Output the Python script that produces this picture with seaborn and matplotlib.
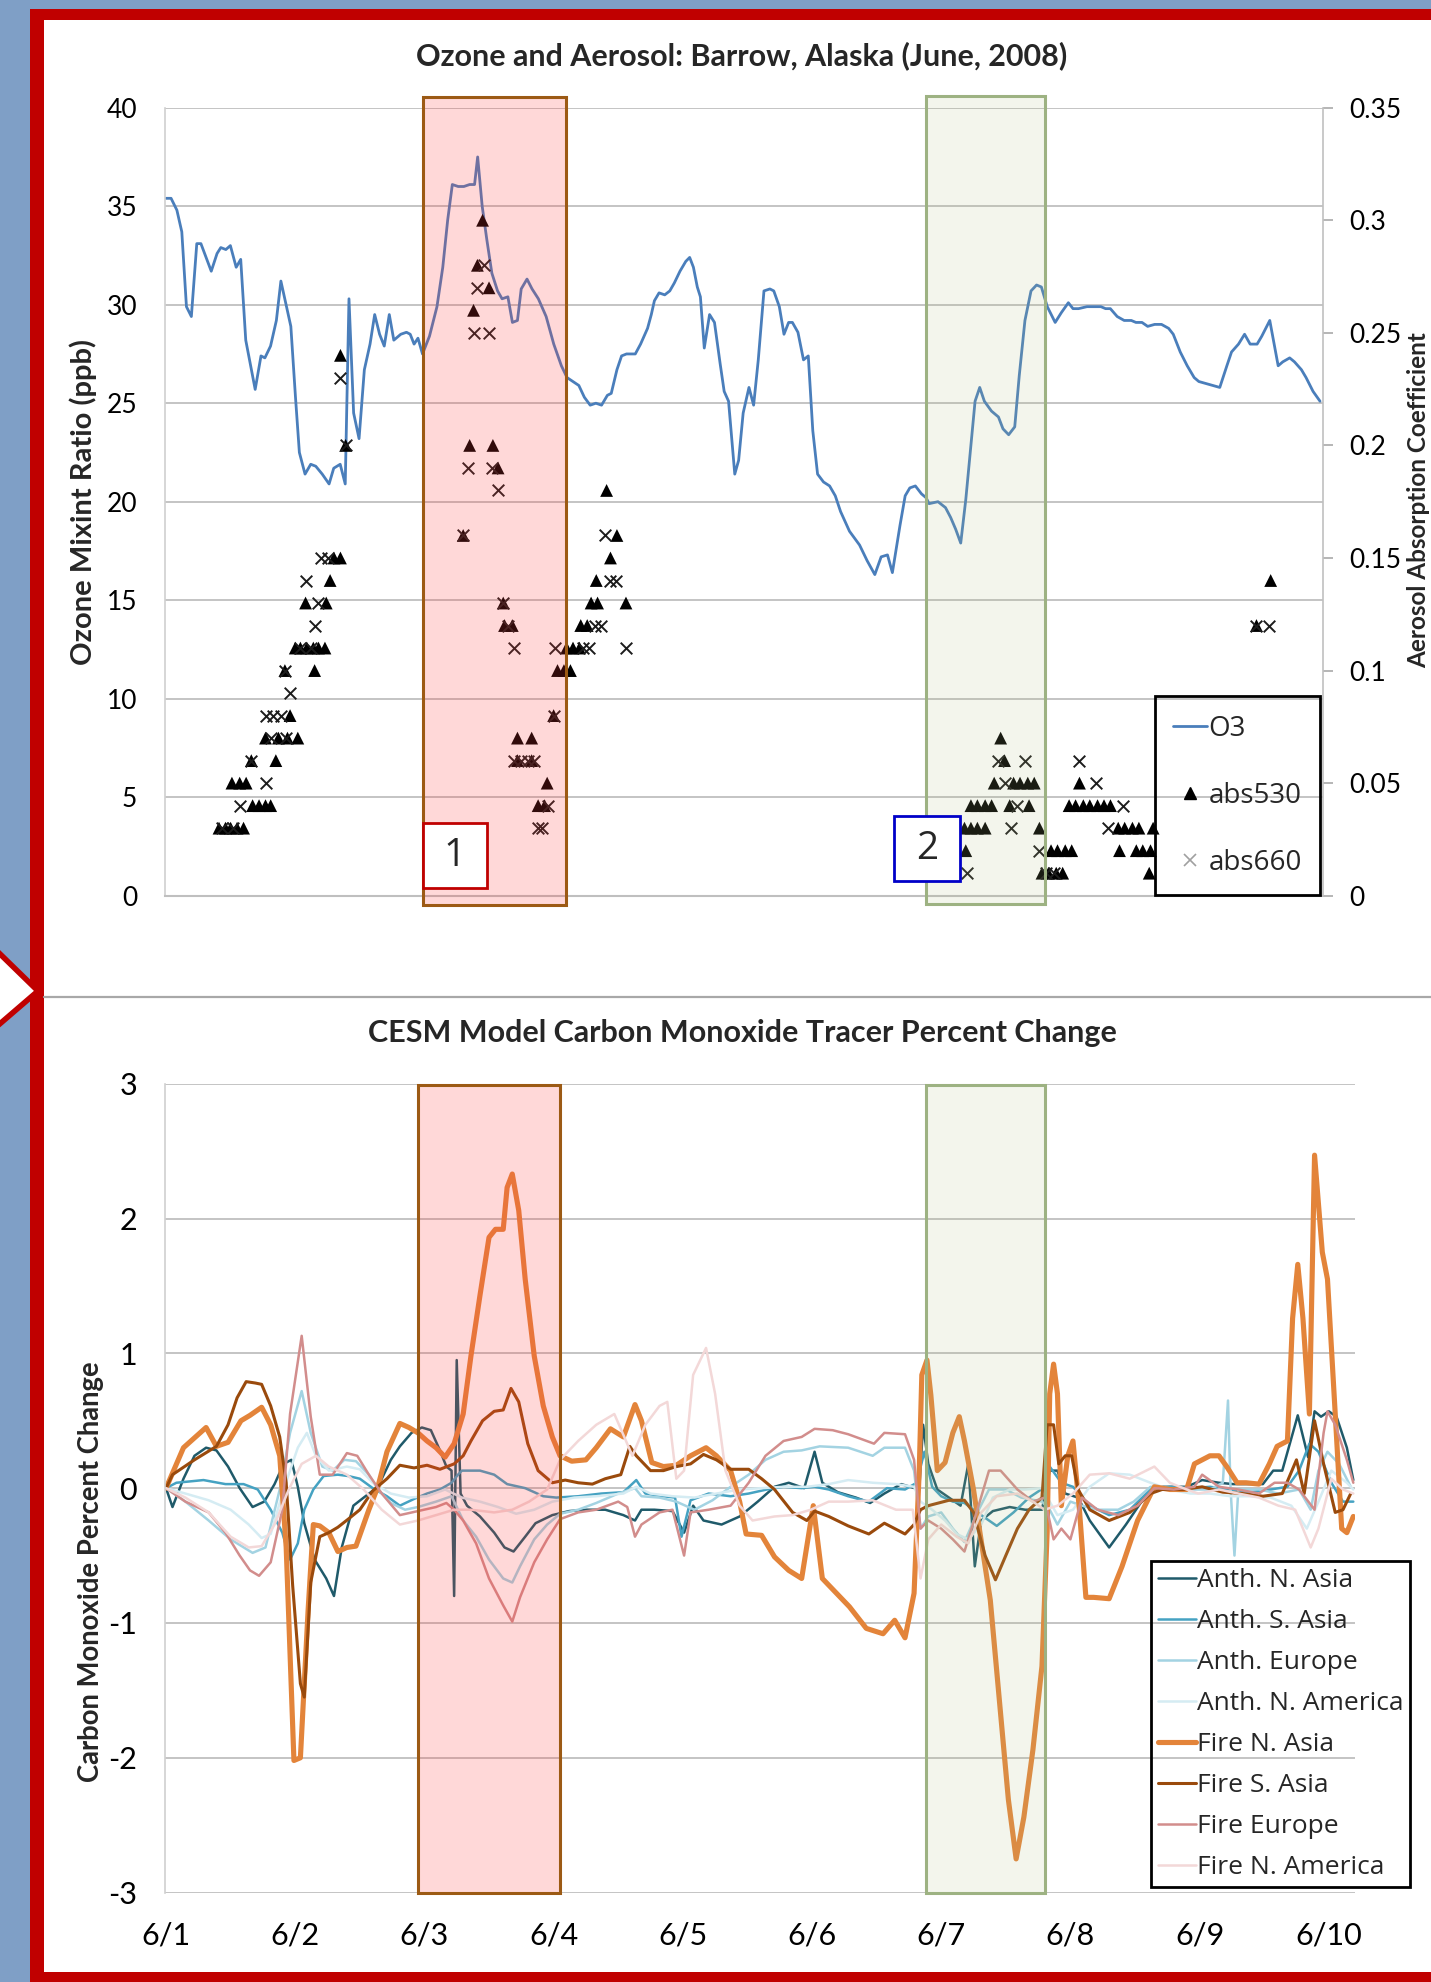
import numpy as np
import pandas as pd
import matplotlib
matplotlib.use("Agg")
import matplotlib.pyplot as plt
import seaborn as sns
from matplotlib.patches import Rectangle, Polygon
from matplotlib.lines import Line2D

# ---------------------------------------------------------------- data
title_top = "Ozone and Aerosol: Barrow, Alaska (June, 2008)"
title_bottom = "CESM Model Carbon Monoxide Tracer Percent Change"
ylabel_top = "Ozone Mixint Ratio (ppb)"
ylabel_right = "Aerosol Absorption Coefficient"
ylabel_bottom = "Carbon Monoxide Percent Change"

o3_ticks = [0, 5, 10, 15, 20, 25, 30, 35, 40]
o3_ticklabels = ["0", "5", "10", "15", "20", "25", "30", "35", "40"]
abs_ticks = [0, 0.05, 0.10, 0.15, 0.20, 0.25, 0.30, 0.35]
abs_ticklabels = ["0", "0.05", "0.1", "0.15", "0.2", "0.25", "0.3", "0.35"]
co_yticks = [-3, -2, -1, 0, 1, 2, 3]
co_yticklabels = ["-3", "-2", "-1", "0", "1", "2", "3"]
date_ticks = [0, 1, 2, 3, 4, 5, 6, 7, 8, 9]
date_labels = ["6/1", "6/2", "6/3", "6/4", "6/5", "6/6", "6/7", "6/8", "6/9", "6/10"]

# O3 (days since 6/1 00:00, ppb)
o3_points = [
    (0.000, 35.4), (0.039, 35.4), (0.084, 34.8), (0.122, 33.7), (0.158, 29.9), (0.196, 29.4),
    (0.238, 33.1), (0.270, 33.1), (0.350, 31.7), (0.395, 32.6), (0.424, 32.9), (0.463, 32.8),
    (0.498, 33.0), (0.543, 31.9), (0.578, 32.3), (0.617, 28.2), (0.690, 25.7), (0.735, 27.4),
    (0.765, 27.3), (0.809, 27.9), (0.854, 29.2), (0.889, 31.2), (0.966, 28.9), (1.002, 25.3),
    (1.032, 22.5), (1.076, 21.4), (1.120, 21.9), (1.159, 21.8), (1.209, 21.4), (1.262, 20.9),
    (1.298, 21.7), (1.348, 21.9), (1.387, 20.9), (1.416, 30.3), (1.452, 24.5), (1.494, 23.2),
    (1.535, 26.7), (1.579, 28.0), (1.615, 29.5), (1.653, 28.5), (1.689, 27.9), (1.728, 29.5),
    (1.763, 28.2), (1.817, 28.5), (1.861, 28.6), (1.890, 28.5), (1.920, 28.0), (1.950, 28.3),
    (1.985, 27.5), (2.039, 28.4), (2.097, 29.9), (2.142, 31.9), (2.180, 34.3), (2.216, 36.1),
    (2.261, 36.0), (2.305, 36.0), (2.350, 36.1), (2.388, 36.1), (2.412, 37.5), (2.447, 35.0),
    (2.483, 33.3), (2.522, 31.6), (2.566, 30.7), (2.601, 30.3), (2.646, 30.4), (2.681, 29.1),
    (2.720, 29.2), (2.749, 30.8), (2.794, 31.3), (2.833, 30.8), (2.882, 30.3), (2.942, 29.4),
    (3.001, 28.0), (3.060, 26.9), (3.104, 26.3), (3.149, 26.1), (3.195, 25.9), (3.238, 25.3),
    (3.283, 24.9), (3.327, 25.0), (3.371, 24.9), (3.416, 25.4), (3.446, 25.5), (3.490, 26.7),
    (3.526, 27.4), (3.564, 27.5), (3.632, 27.5), (3.673, 28.0), (3.727, 28.8), (3.756, 29.5),
    (3.780, 30.2), (3.816, 30.6), (3.860, 30.5), (3.899, 30.7), (3.934, 31.1), (3.978, 31.7),
    (4.023, 32.2), (4.053, 32.4), (4.082, 31.9), (4.112, 30.9), (4.136, 30.4), (4.166, 27.8),
    (4.207, 29.5), (4.245, 29.1), (4.289, 27.0), (4.320, 25.6), (4.354, 25.1), (4.402, 21.4),
    (4.432, 22.1), (4.467, 24.5), (4.512, 25.8), (4.548, 24.9), (4.584, 27.2), (4.628, 30.7),
    (4.674, 30.8), (4.704, 30.7), (4.747, 29.9), (4.783, 28.5), (4.819, 29.1), (4.848, 29.1),
    (4.891, 28.6), (4.934, 27.2), (4.971, 27.4), (5.006, 23.6), (5.043, 21.4), (5.089, 21.0),
    (5.136, 20.8), (5.180, 20.3), (5.221, 19.5), (5.290, 18.5), (5.368, 17.8), (5.427, 17.0),
    (5.486, 16.3), (5.535, 17.2), (5.584, 17.3), (5.622, 16.4), (5.681, 18.8), (5.721, 20.3),
    (5.757, 20.7), (5.800, 20.8), (5.847, 20.4), (5.883, 20.2), (5.906, 19.9), (5.975, 20.0),
    (6.033, 19.7), (6.073, 19.2), (6.112, 18.6), (6.151, 17.9), (6.190, 20.1), (6.262, 25.1),
    (6.298, 25.8), (6.334, 25.1), (6.389, 24.6), (6.443, 24.3), (6.478, 23.7), (6.522, 23.4),
    (6.569, 23.8), (6.604, 26.4), (6.648, 29.2), (6.695, 30.7), (6.738, 31.0), (6.775, 30.9),
    (6.821, 29.9), (6.882, 29.1), (6.930, 29.6), (6.984, 30.1), (7.020, 29.8), (7.063, 29.8),
    (7.128, 29.9), (7.182, 29.9), (7.236, 29.9), (7.272, 29.8), (7.309, 29.8), (7.362, 29.4),
    (7.416, 29.2), (7.471, 29.2), (7.507, 29.1), (7.554, 29.1), (7.598, 28.9), (7.652, 29.0),
    (7.705, 29.0), (7.760, 28.8), (7.796, 28.5), (7.850, 27.6), (7.904, 26.9), (7.958, 26.3),
    (7.994, 26.1), (8.048, 26.0), (8.102, 25.9), (8.156, 25.8), (8.211, 26.9), (8.247, 27.6),
    (8.301, 28.0), (8.348, 28.5), (8.391, 28.0), (8.445, 28.0), (8.481, 28.4), (8.543, 29.2),
    (8.608, 26.9), (8.644, 27.1), (8.697, 27.3), (8.734, 27.1), (8.788, 26.7), (8.824, 26.3),
    (8.878, 25.6), (8.932, 25.1),
]

# aerosol absorption at 530 nm (day, coefficient)
abs530_points = [
    (0.41, .03), (0.46, .03), (0.50, .03), (0.55, .03), (0.60, .03),
    (0.67, .04), (0.72, .04), (0.77, .04), (0.81, .04),
    (0.51, .05), (0.57, .05), (0.62, .05), (0.66, .06), (0.85, .06),
    (0.77, .07), (0.87, .07), (0.94, .07), (1.02, .07), (0.96, .08),
    (0.92, .10), (1.15, .10),
    (1.00, .11), (1.04, .11), (1.09, .11), (1.14, .11), (1.18, .11), (1.23, .11),
    (1.08, .13), (1.24, .13), (1.27, .14), (1.30, .15), (1.35, .15), (1.39, .20), (1.35, .24),
    (2.30, .16), (2.35, .20), (2.53, .20), (2.57, .19), (2.38, .26), (2.50, .27), (2.41, .28),
    (2.45, .30), (2.61, .13), (2.62, .12), (2.68, .12), (3.00, .08), (2.72, .07), (2.83, .07),
    (2.72, .06), (2.83, .06), (2.95, .05), (2.88, .04), (2.93, .04),
    (3.03, .10), (3.08, .10), (3.13, .10), (3.10, .11), (3.15, .11), (3.20, .11),
    (3.21, .12), (3.26, .12), (3.29, .13), (3.34, .13), (3.56, .13), (3.33, .14),
    (3.44, .15), (3.49, .16), (3.41, .18),
    (6.46, .07), (6.49, .06), (6.41, .05), (6.56, .05), (6.61, .05), (6.67, .05), (6.72, .05),
    (7.07, .05),
    (6.23, .04), (6.28, .04), (6.34, .04), (6.39, .04), (6.53, .04), (6.68, .04), (6.99, .04),
    (7.04, .04), (7.10, .04), (7.15, .04), (7.21, .04), (7.26, .04), (7.31, .04),
    (6.18, .03), (6.23, .03), (6.28, .03), (6.34, .03), (6.76, .03), (7.37, .03), (7.42, .03),
    (7.48, .03), (7.53, .03), (7.64, .03),
    (6.19, .02), (6.85, .02), (6.90, .02), (6.96, .02), (7.01, .02), (7.38, .02), (7.51, .02),
    (7.56, .02), (7.62, .02),
    (6.78, .01), (6.83, .01), (6.89, .01), (6.94, .01), (7.61, .01),
    (8.55, .14), (8.44, .12),
]

# aerosol absorption at 660 nm (day, coefficient)
abs660_points = [
    (0.43, .03), (0.52, .03), (0.57, .04), (0.77, .05), (0.66, .06), (0.81, .07), (0.93, .07),
    (0.77, .08), (0.83, .08), (0.89, .08), (0.96, .09), (0.92, .10), (1.04, .11), (1.12, .11),
    (1.15, .12), (1.18, .13), (1.08, .14), (1.20, .15), (1.25, .15), (1.39, .20), (1.35, .23),
    (2.30, .16), (2.46, .28), (2.41, .27), (2.38, .25), (2.50, .25), (2.34, .19), (2.52, .19),
    (2.57, .18), (2.61, .13), (2.65, .12), (2.69, .11), (3.00, .08), (2.69, .06), (2.75, .06),
    (2.80, .06), (2.85, .06), (2.96, .04), (2.88, .03), (2.91, .03),
    (3.01, .11), (3.23, .11), (3.27, .11), (3.56, .11), (3.32, .12), (3.37, .12), (3.44, .14),
    (3.48, .14), (3.40, .16),
    (6.44, .06), (6.65, .06), (7.07, .06), (6.49, .05), (7.20, .05), (6.59, .04), (7.41, .04),
    (6.54, .03), (7.29, .03), (6.76, .02), (6.20, .01), (6.81, .01), (6.87, .01),
    (8.44, .12), (8.54, .12),
]

# CO tracer percent change (day, %)
co_anth_nasia = [
    (0.0, 0.0), (0.05, -0.14), (0.135, 0.07), (0.22, 0.24), (0.31, 0.30), (0.39, 0.28), (0.48, 0.16),
    (0.57, 0.0), (0.67, -0.14), (0.76, -0.10), (0.84, 0.03), (0.91, 0.18), (0.97, 0.21), (1.02, 0.01),
    (1.07, -0.26), (1.15, -0.53), (1.24, -0.67), (1.30, -0.80), (1.36, -0.44), (1.45, -0.13),
    (1.53, -0.07), (1.64, 0.01), (1.74, 0.21), (1.81, 0.31), (1.90, 0.41), (1.98, 0.45), (2.05, 0.43),
    (2.12, 0.28), (2.17, 0.16), (2.21, 0.13), (2.23, -0.80), (2.25, 0.95), (2.28, -0.04), (2.33, -0.13),
    (2.43, -0.21), (2.54, -0.33), (2.62, -0.44), (2.69, -0.47), (2.78, -0.36), (2.86, -0.26),
    (2.99, -0.20), (3.12, -0.17), (3.26, -0.16), (3.40, -0.16), (3.54, -0.20), (3.63, -0.24),
    (3.68, -0.16), (3.78, -0.16), (3.92, -0.17), (4.01, -0.33), (4.08, -0.13), (4.16, -0.24),
    (4.30, -0.27), (4.44, -0.21), (4.58, -0.10), (4.71, 0.01), (4.82, 0.04), (4.94, 0.0), (5.02, 0.27),
    (5.08, 0.04), (5.20, -0.03), (5.34, -0.07), (5.45, -0.11), (5.56, -0.04), (5.69, 0.03), (5.76, 0.01),
    (5.83, -0.01), (5.86, 0.47), (5.90, 0.18), (5.97, -0.01), (6.06, -0.07), (6.15, -0.13), (6.21, 0.18),
    (6.26, -0.58), (6.31, -0.24), (6.40, -0.17), (6.53, -0.14), (6.65, -0.16), (6.78, -0.16),
    (6.84, 0.13), (6.90, 0.13), (6.96, -0.04), (7.06, -0.07), (7.15, -0.24), (7.30, -0.44),
    (7.43, -0.27), (7.55, -0.10), (7.65, 0.01), (7.77, 0.01), (7.90, 0.01), (8.02, 0.06), (8.15, 0.04),
    (8.26, 0.03), (8.36, 0.03), (8.49, 0.03), (8.57, 0.13), (8.64, 0.13), (8.76, 0.54), (8.84, 0.23),
    (8.89, 0.57), (8.94, 0.53), (9.00, 0.57), (9.06, 0.53), (9.14, 0.30), (9.19, 0.06),
]
co_anth_sasia = [
    (0.0, 0.0), (0.08, 0.04), (0.29, 0.06), (0.46, 0.03), (0.60, 0.03), (0.71, -0.01), (0.81, -0.16),
    (0.90, -0.33), (0.96, -0.53), (1.02, -0.41), (1.07, -0.16), (1.14, -0.01), (1.22, 0.09),
    (1.33, 0.10), (1.41, 0.09), (1.50, 0.07), (1.60, 0.0), (1.71, -0.06), (1.81, -0.13), (1.92, -0.08),
    (2.02, -0.04), (2.12, -0.01), (2.21, 0.04), (2.26, 0.10), (2.29, 0.13), (2.43, 0.13), (2.54, 0.10),
    (2.64, 0.03), (2.78, 0.0), (2.92, -0.06), (3.02, -0.07), (3.19, -0.06), (3.37, -0.04), (3.54, -0.03),
    (3.64, 0.06), (3.71, -0.04), (3.85, -0.06), (3.94, -0.07), (3.99, -0.36), (4.06, -0.09),
    (4.20, -0.04), (4.37, -0.06), (4.51, -0.04), (4.65, -0.01), (4.78, 0.01), (4.92, 0.0), (5.02, 0.01),
    (5.13, -0.01), (5.28, -0.06), (5.44, -0.10), (5.58, 0.0), (5.72, -0.01), (5.81, 0.04), (5.87, 0.27),
    (5.93, 0.01), (6.00, -0.06), (6.09, -0.10), (6.18, -0.11), (6.25, -0.16), (6.31, -0.20),
    (6.43, -0.28), (6.56, -0.18), (6.68, -0.07), (6.79, 0.0), (6.84, 0.16), (6.93, 0.04), (7.02, 0.01),
    (7.15, -0.13), (7.30, -0.20), (7.46, -0.16), (7.62, -0.01), (7.77, 0.01), (7.93, 0.0), (8.08, 0.01),
    (8.24, -0.01), (8.39, -0.03), (8.55, -0.01), (8.68, 0.01), (8.77, 0.13), (8.85, 0.33), (8.92, 0.27),
    (9.02, 0.04), (9.11, -0.10), (9.19, -0.10),
]
co_anth_europe = [
    (0.0, 0.0), (0.15, -0.10), (0.33, -0.24), (0.50, -0.38), (0.67, -0.48), (0.77, -0.44),
    (0.88, -0.01), (0.96, 0.41), (1.05, 0.72), (1.12, 0.41), (1.21, 0.16), (1.29, 0.13), (1.38, 0.21),
    (1.47, 0.20), (1.57, 0.10), (1.64, -0.01), (1.74, -0.11), (1.85, -0.16), (1.95, -0.14),
    (2.09, -0.10), (2.21, -0.06), (2.26, -0.16), (2.30, -0.24), (2.40, -0.36), (2.50, -0.53),
    (2.61, -0.67), (2.68, -0.70), (2.74, -0.58), (2.85, -0.38), (2.95, -0.27), (3.05, -0.19),
    (3.19, -0.16), (3.33, -0.11), (3.50, -0.04), (3.63, 0.0), (3.68, -0.06), (3.82, -0.07),
    (3.95, -0.10), (4.09, -0.16), (4.23, -0.09), (4.37, 0.01), (4.51, 0.10), (4.64, 0.21), (4.78, 0.27),
    (4.92, 0.28), (5.06, 0.31), (5.28, 0.30), (5.47, 0.24), (5.56, 0.30), (5.72, 0.30), (5.79, 0.13),
    (5.84, -0.30), (5.90, -0.21), (6.00, -0.18), (6.09, -0.30), (6.18, -0.40), (6.28, -0.18),
    (6.37, -0.01), (6.50, -0.01), (6.62, -0.07), (6.78, -0.10), (6.84, -0.16), (6.90, -0.27),
    (7.00, -0.10), (7.09, -0.13), (7.21, -0.16), (7.37, -0.16), (7.49, -0.10), (7.62, 0.01), (7.77, 0.0),
    (7.93, -0.01), (8.08, -0.01), (8.18, 0.04), (8.22, 0.65), (8.24, -0.01), (8.27, -0.50), (8.30, -0.01),
    (8.46, -0.01), (8.61, -0.04), (8.77, -0.01), (8.86, -0.16), (8.92, 0.13), (8.99, 0.27), (9.08, 0.18),
    (9.17, 0.01),
]
co_anth_namerica = [
    (0.0, 0.0), (0.15, -0.04), (0.33, -0.09), (0.50, -0.16), (0.64, -0.27), (0.74, -0.37), (0.81, -0.34),
    (0.91, -0.01), (1.02, 0.30), (1.09, 0.41), (1.16, 0.24), (1.26, 0.13), (1.40, 0.16), (1.50, 0.14),
    (1.60, 0.04), (1.74, -0.04), (1.88, -0.07), (2.02, -0.06), (2.16, -0.01), (2.29, -0.07),
    (2.43, -0.10), (2.57, -0.14), (2.71, -0.19), (2.85, -0.16), (2.99, -0.10), (3.16, -0.07),
    (3.33, -0.06), (3.54, -0.04), (3.64, 0.01), (3.75, -0.04), (3.92, -0.06), (4.09, -0.07),
    (4.26, -0.04), (4.44, -0.01), (4.61, 0.0), (4.78, 0.01), (4.96, 0.01), (5.13, 0.03), (5.28, 0.06),
    (5.47, 0.04), (5.65, 0.03), (5.79, 0.01), (5.84, -0.10), (5.93, -0.16), (6.03, -0.24), (6.12, -0.34),
    (6.21, -0.38), (6.31, -0.27), (6.40, -0.07), (6.53, -0.01), (6.65, -0.01), (6.78, 0.0), (6.90, -0.20),
    (7.02, -0.16), (7.15, 0.01), (7.30, 0.11), (7.46, 0.10), (7.62, 0.04), (7.77, -0.01), (7.93, -0.04),
    (8.08, -0.04), (8.24, -0.06), (8.39, -0.06), (8.55, -0.07), (8.71, -0.13), (8.83, -0.30),
    (8.92, -0.10), (9.02, 0.13), (9.14, 0.04), (9.19, -0.01),
]
co_fire_nasia = [
    (0.0, 0.0), (0.135, 0.30), (0.31, 0.45), (0.39, 0.31), (0.48, 0.34), (0.58, 0.50), (0.65, 0.54),
    (0.74, 0.60), (0.81, 0.47), (0.88, 0.24), (0.93, -0.44), (0.99, -2.02), (1.04, -2.00), (1.10, -0.90),
    (1.14, -0.27), (1.19, -0.28), (1.26, -0.33), (1.33, -0.47), (1.40, -0.44), (1.47, -0.43),
    (1.57, -0.16), (1.64, 0.01), (1.71, 0.27), (1.81, 0.48), (1.88, 0.45), (1.95, 0.41), (2.02, 0.35),
    (2.09, 0.30), (2.16, 0.23), (2.23, 0.33), (2.30, 0.55), (2.36, 0.98), (2.43, 1.43), (2.50, 1.86),
    (2.55, 1.92), (2.61, 1.92), (2.64, 2.23), (2.68, 2.33), (2.73, 2.06), (2.78, 1.55), (2.85, 0.98),
    (2.92, 0.61), (2.99, 0.38), (3.05, 0.24), (3.14, 0.20), (3.25, 0.21), (3.33, 0.30), (3.44, 0.44),
    (3.54, 0.38), (3.63, 0.62), (3.68, 0.50), (3.76, 0.19), (3.85, 0.16), (3.95, 0.17), (4.06, 0.24),
    (4.18, 0.30), (4.26, 0.24), (4.37, 0.13), (4.44, -0.10), (4.49, -0.34), (4.61, -0.35), (4.71, -0.51),
    (4.82, -0.61), (4.92, -0.67), (5.01, -0.13), (5.08, -0.67), (5.16, -0.75), (5.29, -0.88),
    (5.42, -1.04), (5.55, -1.08), (5.64, -0.98), (5.72, -1.11), (5.79, -0.78), (5.83, 0.13), (5.85, 0.84),
    (5.89, 0.95), (5.92, 0.69), (5.97, 0.13), (6.03, 0.19), (6.09, 0.41), (6.14, 0.53), (6.18, 0.35),
    (6.25, -0.01), (6.30, -0.33), (6.38, -0.83), (6.45, -1.57), (6.52, -2.31), (6.58, -2.75),
    (6.64, -2.44), (6.71, -1.94), (6.78, -1.32), (6.82, -0.33), (6.84, 0.70), (6.87, 0.92), (6.90, 0.70),
    (6.93, -0.13), (6.98, 0.24), (7.02, 0.35), (7.07, -0.16), (7.12, -0.81), (7.18, -0.81), (7.30, -0.82),
    (7.40, -0.58), (7.52, -0.24), (7.65, 0.01), (7.77, -0.01), (7.90, -0.01), (7.96, 0.18), (8.02, 0.21),
    (8.08, 0.24), (8.15, 0.24), (8.21, 0.16), (8.29, 0.04), (8.36, 0.04), (8.46, 0.03), (8.54, 0.18),
    (8.60, 0.31), (8.68, 0.35), (8.72, 1.26), (8.76, 1.66), (8.80, 1.26), (8.85, 0.55), (8.89, 2.47),
    (8.95, 1.75), (8.99, 1.55), (9.05, 0.55), (9.10, -0.30), (9.14, -0.33), (9.19, -0.21),
]
co_fire_sasia = [
    (0.0, 0.0), (0.05, 0.10), (0.22, 0.21), (0.39, 0.31), (0.48, 0.47), (0.55, 0.67), (0.62, 0.79),
    (0.69, 0.78), (0.74, 0.77), (0.81, 0.61), (0.88, 0.38), (0.93, 0.04), (0.98, -0.72), (1.04, -1.45),
    (1.07, -1.55), (1.12, -0.70), (1.19, -0.36), (1.26, -0.33), (1.33, -0.29), (1.41, -0.23),
    (1.50, -0.16), (1.60, -0.02), (1.71, 0.07), (1.81, 0.17), (1.92, 0.15), (2.02, 0.17), (2.12, 0.14),
    (2.23, 0.18), (2.30, 0.24), (2.36, 0.35), (2.45, 0.50), (2.54, 0.57), (2.61, 0.58), (2.67, 0.74),
    (2.73, 0.64), (2.80, 0.33), (2.88, 0.13), (2.99, 0.04), (3.09, 0.06), (3.19, 0.04), (3.30, 0.03),
    (3.40, 0.07), (3.52, 0.10), (3.59, 0.31), (3.64, 0.24), (3.75, 0.13), (3.85, 0.13), (3.95, 0.16),
    (4.06, 0.18), (4.16, 0.25), (4.26, 0.21), (4.37, 0.14), (4.51, 0.14), (4.61, 0.07), (4.71, -0.01),
    (4.85, -0.18), (4.96, -0.24), (5.02, -0.17), (5.13, -0.21), (5.28, -0.28), (5.44, -0.34),
    (5.56, -0.26), (5.72, -0.34), (5.79, -0.27), (5.84, -0.16), (5.90, -0.13), (6.06, -0.09),
    (6.18, -0.09), (6.25, -0.18), (6.34, -0.50), (6.42, -0.68), (6.50, -0.50), (6.59, -0.30),
    (6.68, -0.16), (6.78, -0.07), (6.82, 0.47), (6.87, 0.47), (6.91, 0.18), (6.96, 0.24), (7.01, 0.24),
    (7.06, -0.01), (7.15, -0.16), (7.30, -0.24), (7.46, -0.18), (7.62, -0.04), (7.71, -0.01),
    (7.87, -0.01), (8.02, 0.01), (8.18, -0.03), (8.33, -0.04), (8.49, -0.06), (8.64, -0.04), (8.75, 0.21),
    (8.81, -0.04), (8.89, 0.50), (8.96, 0.18), (9.05, -0.18), (9.11, -0.16), (9.17, -0.04),
]
co_fire_europe = [
    (0.0, 0.0), (0.15, -0.10), (0.33, -0.18), (0.46, -0.33), (0.57, -0.50), (0.65, -0.61), (0.72, -0.65),
    (0.81, -0.55), (0.90, -0.16), (0.96, 0.55), (1.05, 1.13), (1.12, 0.53), (1.19, 0.10), (1.29, 0.10),
    (1.40, 0.26), (1.48, 0.24), (1.57, 0.10), (1.67, -0.04), (1.81, -0.20), (1.95, -0.17), (2.09, -0.14),
    (2.17, -0.11), (2.23, -0.16), (2.30, -0.24), (2.40, -0.41), (2.50, -0.67), (2.61, -0.87),
    (2.68, -0.99), (2.74, -0.81), (2.85, -0.55), (2.95, -0.38), (3.05, -0.23), (3.19, -0.18),
    (3.33, -0.16), (3.50, -0.10), (3.57, -0.14), (3.63, -0.36), (3.68, -0.27), (3.82, -0.18),
    (3.92, -0.16), (4.01, -0.50), (4.06, -0.18), (4.20, -0.16), (4.37, -0.13), (4.51, 0.04), (4.64, 0.24),
    (4.78, 0.35), (4.92, 0.38), (5.02, 0.44), (5.16, 0.43), (5.28, 0.40), (5.48, 0.33), (5.56, 0.41),
    (5.72, 0.40), (5.79, 0.21), (5.84, -0.30), (5.90, -0.24), (6.00, -0.30), (6.09, -0.38), (6.18, -0.47),
    (6.28, -0.16), (6.37, 0.13), (6.46, 0.13), (6.59, -0.01), (6.71, -0.10), (6.80, -0.07), (6.87, -0.38),
    (6.93, -0.30), (7.00, -0.38), (7.09, -0.07), (7.21, -0.16), (7.37, -0.20), (7.52, -0.13), (7.65, 0.0),
    (7.80, -0.01), (7.96, 0.01), (8.02, 0.10), (8.15, 0.01), (8.30, -0.01), (8.46, -0.04), (8.58, 0.04),
    (8.68, 0.04), (8.77, -0.01), (8.89, -0.16), (8.96, 0.41), (8.99, 0.57), (9.05, 0.47), (9.14, 0.21),
    (9.19, 0.04),
]
co_fire_namerica = [
    (0.0, 0.0), (0.15, -0.07), (0.33, -0.18), (0.50, -0.36), (0.64, -0.44), (0.74, -0.43), (0.84, -0.27),
    (0.95, -0.01), (1.05, 0.18), (1.16, 0.24), (1.26, 0.16), (1.40, 0.10), (1.53, -0.01), (1.67, -0.16),
    (1.81, -0.27), (1.95, -0.24), (2.09, -0.20), (2.23, -0.16), (2.36, -0.16), (2.54, -0.18),
    (2.68, -0.16), (2.81, -0.10), (2.95, -0.01), (3.05, 0.21), (3.19, 0.35), (3.33, 0.47), (3.47, 0.55),
    (3.61, 0.24), (3.71, 0.47), (3.82, 0.61), (3.88, 0.64), (3.95, 0.07), (4.01, 0.13), (4.08, 0.84),
    (4.18, 1.04), (4.25, 0.70), (4.33, 0.13), (4.44, -0.13), (4.54, -0.24), (4.71, -0.21), (4.85, -0.20),
    (4.99, -0.16), (5.13, -0.10), (5.28, -0.10), (5.47, -0.09), (5.65, -0.16), (5.78, -0.16),
    (5.84, -0.67), (5.90, -0.38), (6.00, -0.27), (6.12, -0.36), (6.21, -0.41), (6.31, -0.18),
    (6.43, -0.06), (6.59, -0.04), (6.71, -0.10), (6.80, -0.16), (6.90, -0.13), (7.02, -0.04), (7.15, 0.10),
    (7.30, 0.11), (7.46, 0.07), (7.65, 0.16), (7.77, 0.04), (7.90, -0.01), (7.99, -0.04), (8.15, -0.01),
    (8.30, -0.04), (8.46, -0.07), (8.61, -0.13), (8.74, -0.16), (8.86, -0.44), (8.92, -0.30), (9.02, 0.07),
    (9.11, -0.01), (9.19, -0.04),
]

co_names = ["Anth. N. Asia", "Anth. S. Asia", "Anth. Europe", "Anth. N. America",
            "Fire N. Asia", "Fire S. Asia", "Fire Europe", "Fire N. America"]
co_series = [co_anth_nasia, co_anth_sasia, co_anth_europe, co_anth_namerica,
             co_fire_nasia, co_fire_sasia, co_fire_europe, co_fire_namerica]
co_colors = ["#1f5a6a", "#45a2c2", "#a3d3e2", "#d5ecf3",
             "#e3843a", "#9a4a0c", "#d28d8c", "#f3d8d8"]
co_widths = [1.8, 1.8, 1.8, 1.8, 3.7, 2.2, 1.8, 1.8]

# ---------------------------------------------------------------- style
sns.set_theme(style="white")
plt.rcParams['font.family'] = ['Lato', 'DejaVu Sans']
plt.rcParams['axes.facecolor'] = 'none'

W, H = 1431, 1982
fig = plt.figure(figsize=(W / 100, H / 100), dpi=100)
fig.patch.set_facecolor('white')


def fx(px):
    return px / W


def fy(py):
    return 1 - py / H


BLUE = '#7f9fc6'
RED = '#c00000'
GRID = '#c4c4c4'

# slide frame
tf = fig.transFigure
fig.add_artist(Rectangle((0, 0), fx(30), 1, transform=tf, fc=BLUE, ec='none', zorder=2))
fig.add_artist(Rectangle((0, fy(9)), 1, 9 / H, transform=tf, fc=BLUE, ec='none', zorder=2))
fig.add_artist(Rectangle((fx(30), fy(20)), 1, 11 / H, transform=tf, fc=RED, ec='none', zorder=2))
fig.add_artist(Rectangle((fx(30), 0), 14 / W, fy(9), transform=tf, fc=RED, ec='none', zorder=2))
fig.add_artist(Rectangle((fx(30), 0), 1, 10 / H, transform=tf, fc=RED, ec='none', zorder=2))
fig.add_artist(Polygon([(-0.01, fy(940)), (fx(38), fy(991)), (-0.01, fy(1036))], closed=True,
                       transform=tf, fc='white', ec=RED, lw=4, zorder=3))
fig.add_artist(Line2D([fx(44), 1], [fy(997), fy(997)], transform=tf, color='#a8a8a8', lw=1.6, zorder=2))

# ---------------------------------------------------------------- upper panel
ax1 = fig.add_axes([fx(165), fy(895.7), (1323 - 165) / W, (895.7 - 107.7) / H])
ax2 = ax1.twinx()

o3_df = pd.DataFrame(o3_points, columns=["day", "ppb"])
a530_df = pd.DataFrame(abs530_points, columns=["day", "coef"])
a660_df = pd.DataFrame(abs660_points, columns=["day", "coef"])

sns.lineplot(data=o3_df, x="day", y="ppb", ax=ax1, color='#4a7ebb', linewidth=2.0,
             estimator=None, sort=False, legend=False)
sns.scatterplot(data=a530_df, x="day", y="coef", ax=ax2, marker='^', s=85, color='black',
                edgecolor='none', linewidth=0, legend=False, zorder=3)
sns.scatterplot(data=a660_df, x="day", y="coef", ax=ax2, marker='x', s=70, color='#1c1c1c',
                linewidth=1.4, legend=False, zorder=3)

ax1.set_xlim(-0.008, 8.955)
ax1.set_ylim(0, 40)
ax2.set_ylim(0, 0.35)
ax1.set_yticks(o3_ticks)
ax1.set_yticklabels(o3_ticklabels)
ax2.set_yticks(abs_ticks)
ax2.set_yticklabels(abs_ticklabels)
ax1.set_xticks(np.arange(0, 8.95, 0.4567) - 0.008)
ax1.set_xticklabels([])
ax1.set_xlabel('')
ax1.set_ylabel('')
ax2.set_xlabel('')
ax2.set_ylabel('')
ax1.grid(axis='y', color=GRID, lw=1.4)
ax1.grid(axis='x', visible=False)
ax2.grid(False)
ax1.set_axisbelow(True)
ax1.tick_params(axis='x', direction='inout', length=12, width=1.2, color='#bfbfbf')
ax1.tick_params(axis='y', length=0, pad=20, labelsize=19, labelcolor='black')
ax2.tick_params(axis='y', direction='out', length=7, width=1.2, color='#a9a9a9', pad=12,
                labelsize=19, labelcolor='black', right=True)
for s in ['top', 'right']:
    ax1.spines[s].set_visible(False)
ax1.spines['left'].set_color('#d0d0d0')
ax1.spines['left'].set_linewidth(1.2)
ax1.spines['bottom'].set_color('#bfbfbf')
ax1.spines['bottom'].set_linewidth(1.5)
for s in ['top', 'left', 'bottom']:
    ax2.spines[s].set_visible(False)
ax2.spines['right'].set_color('#c0c0c0')
ax2.spines['right'].set_linewidth(1.2)

ax1.set_ylabel(ylabel_top, fontsize=21, fontweight='bold')
ax1.yaxis.set_label_coords((83 - 165) / 1158, 0.5)
ax1.yaxis.label.set_va('center')
fig.text(fx(1430), fy(500), ylabel_right, rotation=90, ha='right', va='center',
         fontsize=17.5, fontweight='bold')

handles_top = [Line2D([], [], color='#4a7ebb', lw=2.0),
               Line2D([], [], color='black', marker='^', ls='', ms=8),
               Line2D([], [], color='#a0a0a0', marker='x', ls='', ms=8, mew=1.2)]
leg1 = ax2.legend(handles_top, ["O3", "abs530", "abs660"], loc='lower right',
                  bbox_to_anchor=(0.9974, 0.001), borderaxespad=0, fancybox=False,
                  edgecolor='black', framealpha=1, prop={'family': 'Open Sans', 'size': 20},
                  labelspacing=1.41, borderpad=0.65, handlelength=1.22, handletextpad=0.07)
leg1.get_frame().set_linewidth(2)

fig.text(fx(742), fy(56), title_top, ha='center', va='center', fontsize=22, fontweight='bold')

# ---------------------------------------------------------------- lower panel
ax3 = fig.add_axes([fx(165), fy(1892.6), (1355 - 165) / W, (1892.6 - 1083.7) / H])
for name, pts, col, lw in zip(co_names, co_series, co_colors, co_widths):
    df = pd.DataFrame(pts, columns=["day", "pct"])
    sns.lineplot(data=df, x="day", y="pct", ax=ax3, color=col, linewidth=lw,
                 estimator=None, sort=False, label=name)

ax3.set_xlim(-0.008, 9.203)
ax3.set_ylim(-3, 3)
ax3.set_yticks(co_yticks)
ax3.set_yticklabels(co_yticklabels)
ax3.set_xticks(date_ticks)
ax3.set_xticklabels(date_labels)
ax3.set_xlabel('')
ax3.grid(axis='y', color=GRID, lw=1.4)
ax3.grid(axis='x', visible=False)
ax3.set_axisbelow(True)
ax3.tick_params(axis='y', length=0, pad=20, labelsize=22, labelcolor='black')
ax3.tick_params(axis='x', length=0, pad=20.5, labelsize=22, labelcolor='black')
for s in ['top', 'right', 'bottom']:
    ax3.spines[s].set_visible(False)
ax3.spines['left'].set_color('#d0d0d0')
ax3.spines['left'].set_linewidth(1.2)
ax3.set_ylabel(ylabel_bottom, fontsize=19.8, fontweight='bold')
ax3.yaxis.set_label_coords((91 - 165) / 1190, (1892.6 - 1572) / 808.9)
ax3.yaxis.label.set_va('center')

leg3 = ax3.legend(loc='lower right', bbox_to_anchor=(1.0462, 0.0069), borderaxespad=0,
                  fancybox=False, edgecolor='black', framealpha=1,
                  prop={'family': 'Open Sans', 'size': 19}, labelspacing=0.61,
                  borderpad=0.25, handlelength=1.44, handletextpad=0.04)
leg3.get_frame().set_linewidth(2)

fig.text(fx(742), fy(1033), title_bottom, ha='center', va='center', fontsize=22, fontweight='bold')

# ---------------------------------------------------------------- highlight boxes
PINK = (1.0, 0.235, 0.235, 0.2)
SAGE = (0.69, 0.74, 0.50, 0.15)
for (x0, y0, x1, y1) in [(423, 97, 566, 905), (418, 1085, 560, 1893)]:
    fig.add_artist(Rectangle((fx(x0), fy(y1)), (x1 - x0) / W, (y1 - y0) / H, transform=tf,
                             fc=PINK, ec='#9c5a14', lw=2.2, zorder=4))
for (x0, y0, x1, y1) in [(926, 96, 1045, 904), (926, 1085, 1045, 1893)]:
    fig.add_artist(Rectangle((fx(x0), fy(y1)), (x1 - x0) / W, (y1 - y0) / H, transform=tf,
                             fc=SAGE, ec='#9db282', lw=2.2, zorder=4))

fig.add_artist(Rectangle((fx(423), fy(888)), 64 / W, 65 / H, transform=tf,
                         fc='white', ec=RED, lw=2, zorder=6))
fig.text(fx(455), fy(856), "1", ha='center', va='center', fontsize=28,
         family=['Open Sans', 'DejaVu Sans'], zorder=7)
fig.add_artist(Rectangle((fx(894), fy(881)), 66 / W, 65 / H, transform=tf,
                         fc='white', ec='#0000c8', lw=2, zorder=6))
fig.text(fx(927), fy(849), "2", ha='center', va='center', fontsize=28,
         family=['Open Sans', 'DejaVu Sans'], zorder=7)

fig.savefig("out.png", dpi=100)
